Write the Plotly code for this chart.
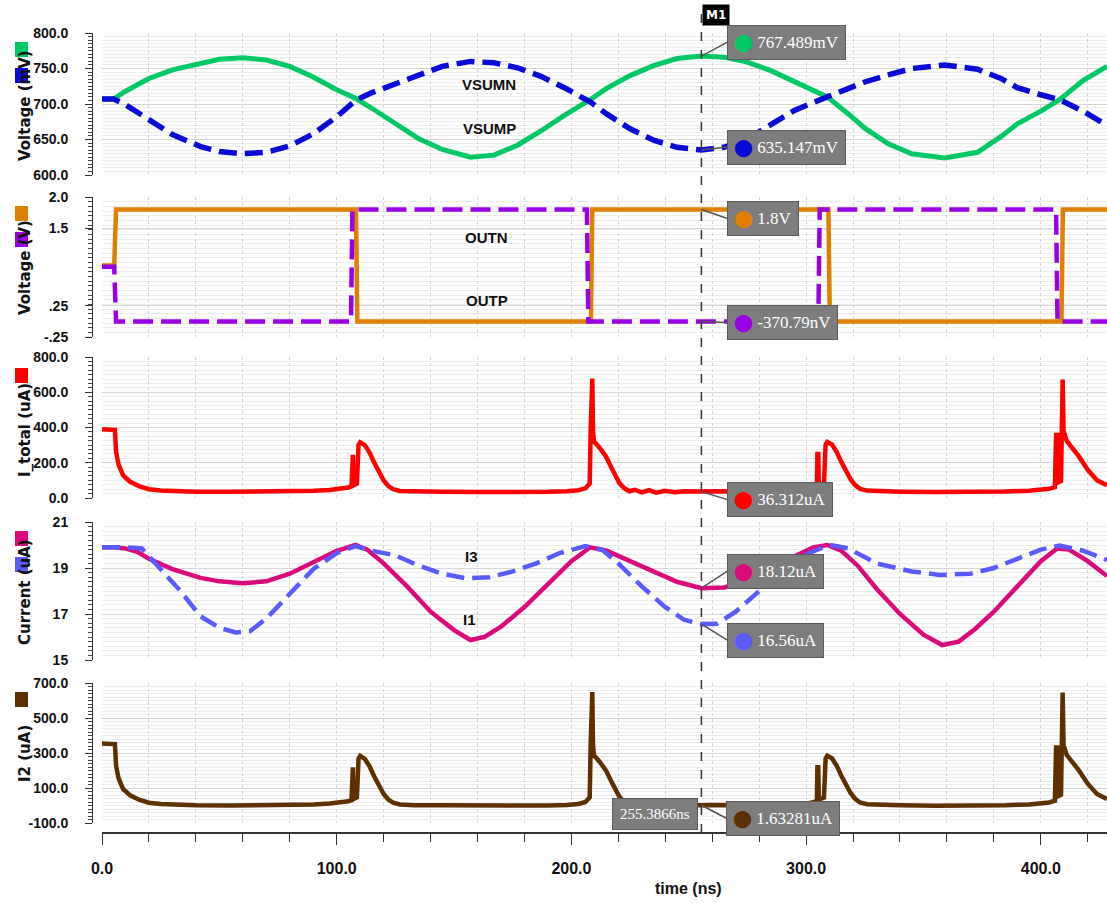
import plotly.graph_objects as go

W, H = 1107, 903

# ---------------- waveform data (time in ns) ----------------
t_vsum = [0, 5, 10, 20, 30, 42, 50, 60, 70, 80, 90, 100, 108, 115, 125,
          135, 145, 157, 167, 177, 187, 197, 208, 215, 225, 235, 245, 255.3866, 265, 275,
          285, 295, 309, 318, 325, 335, 345, 359, 373, 383, 390, 400, 408, 418, 428.2]
vsump = [707, 707, 718, 736, 748, 758, 763, 765, 762, 753, 738, 720, 708, 694, 672,
         651, 636, 625, 628, 642, 662, 684, 706, 722, 740, 754, 764, 767.489, 766, 759,
         747, 731, 710, 686, 666, 644, 630, 624, 632, 654, 672, 690, 706, 733, 753]
vsumn = [707, 707, 699, 677, 657, 640, 633, 630, 632, 641, 658, 682, 705, 716, 729,
         742, 753, 760, 758, 751, 739, 723, 703, 686, 665, 649, 639, 635.147, 639, 651,
         670, 691, 710, 723, 731, 741, 750, 755, 749, 736, 723, 713, 706, 690, 670]

t_outn = [0, 5.2, 6.0, 108.2, 108.8, 208.3, 208.9, 309.5, 310.1, 408.8, 409.4, 428.2]
outn = [0.9, 0.9, 1.8, 1.8, 0.0, 0.0, 1.8, 1.8, 0.0, 0.0, 1.8, 1.8]
t_outp = [0, 5.2, 6.0, 106.1, 106.7, 206.6, 207.2, 305.2, 305.8, 406.5, 407.1, 428.2]
outp = [0.88, 0.88, -3.7079e-7, -3.7079e-7, 1.8, 1.8, -3.7079e-7, -3.7079e-7,
        1.8, 1.8, -3.7079e-7, -3.7079e-7]

t_sw = [0, 5, 5.5, 6, 7, 9, 12, 16, 20, 25,
        30, 40, 55, 70, 80, 90, 97, 102, 105, 106.3,
        106.5, 106.9, 107.1, 108.6, 109.3, 110, 112, 114, 116, 118,
        120, 122, 124, 127, 133, 145, 160, 175, 190, 198,
        203, 206, 207.8, 208.2, 208.5, 208.9, 209.2, 209.6, 212, 214.7,
        217.5, 220.4, 222.5, 224.7, 227, 230, 233, 236, 240, 244,
        248, 252, 255.3866, 260, 265, 270, 278, 285, 292, 298,
        301, 303.5, 304.6, 304.8, 305.2, 305.4, 307.6, 308.3, 309, 311,
        313, 315, 317, 319, 321, 323, 326, 331, 340, 355,
        370, 385, 395, 400, 403.5, 406, 406.5, 407, 407.3, 408.6,
        408.9, 409.3, 409.7, 411, 413, 416, 420, 424, 428.2]
i_total = [390, 390, 386, 262, 192, 128, 92, 66, 50, 42,
           38, 36, 35, 36, 38, 41, 46, 52, 59, 66,
           245, 245, 72, 82, 300, 316, 300, 258, 200, 145,
           100, 68, 50, 40, 37, 36, 34, 33, 35, 38,
           44, 55, 82, 378, 678, 678, 378, 322, 285, 236,
           160, 86, 55, 38, 46, 32, 44, 30, 41, 33,
           38, 34, 36.312, 38, 35, 37, 36, 38, 40, 44,
           48, 55, 62, 250, 250, 70, 80, 302, 318, 304,
           262, 205, 150, 105, 72, 52, 42, 38, 36, 34,
           34, 37, 41, 45, 52, 62, 358, 358, 88, 96,
           672, 672, 380, 325, 290, 240, 160, 100, 72]
i2 = [355, 355, 351, 228, 158, 94, 58, 32, 16, 8,
      4, 1, 0, 1, 3, 6, 11, 17, 24, 31,
      218, 218, 37, 47, 268, 283, 266, 224, 166, 111,
      66, 34, 16, 6, 2, 1, -1, -2, 0, 3,
      9, 20, 47, 346, 648, 648, 346, 288, 250, 201,
      125, 51, 20, 3, 11, -3, 9, -5, 6, -2,
      3, -1, 1.63281, 3, 0, 2, 1, 3, 5, 9,
      13, 20, 27, 218, 218, 35, 45, 268, 284, 270,
      228, 170, 115, 70, 37, 17, 7, 3, 1, -1,
      -1, 2, 6, 10, 17, 27, 332, 332, 53, 61,
      645, 645, 345, 290, 255, 205, 125, 65, 37]
assert len(t_sw) == len(i_total) == len(i2)

t_i1 = [0, 5, 10, 15, 20, 30, 42, 50, 60, 70, 80, 90, 100, 108, 113, 120, 130, 140,
        150, 157, 163, 170, 180, 190, 200, 208, 215, 225, 235, 245, 255.3866, 265, 275,
        285, 295, 303, 309, 315, 322, 330, 340, 350, 358, 365, 372, 380, 390, 400, 407,
        412, 420, 428.2]
i1 = [19.9, 19.9, 19.85, 19.7, 19.4, 18.95, 18.57, 18.42, 18.34, 18.42, 18.75, 19.25,
      19.75, 20.0, 19.8, 19.2, 18.2, 17.1, 16.3, 15.87, 16.0, 16.45, 17.3, 18.3, 19.3,
      19.9, 19.75, 19.3, 18.85, 18.4, 18.12, 18.15, 18.4, 18.9, 19.5, 19.9, 20.0, 19.75,
      19.1, 18.1, 17.0, 16.1, 15.65, 15.8, 16.35, 17.1, 18.2, 19.3, 19.85, 19.8, 19.3,
      18.65]
t_i3 = [0, 10, 17, 23, 33, 42, 50, 57, 63, 70, 80, 90, 100, 108, 115, 125, 135, 145,
        155, 165, 175, 185, 195, 206, 213, 220, 230, 240, 248, 255.3866, 262, 270, 280,
        290, 300, 310, 318, 330, 345, 357, 370, 380, 390, 400, 408, 418, 428.2]
i3 = [19.9, 19.9, 19.85, 19.2, 18.05, 16.9, 16.4, 16.2, 16.25, 16.8, 17.9, 18.95,
      19.65, 19.95, 19.75, 19.55, 19.1, 18.75, 18.55, 18.6, 18.85, 19.2, 19.65, 19.95,
      19.8, 19.2, 18.2, 17.3, 16.75, 16.56, 16.58, 17.1, 18.0, 18.95, 19.6, 20.0, 19.85,
      19.2, 18.85, 18.7, 18.75, 19.0, 19.4, 19.8, 19.98, 19.75, 19.35]

# cursor M1 and the readouts shown at it
cursor_t = 255.3866
readouts = [
    # (panel, value, text, colour, box left x offset, box centre y offset)
    (1, 767.489, "767.489mV", "#00c864", 26, -14),
    (1, 635.147, "635.147mV", "#0a0ad8", 26, -3),
    (2, 1.8, "1.8V", "#e08000", 26, 9),
    (2, -3.7079e-7, "-370.79nV", "#9a00e6", 26, 1),
    (3, 36.312, "36.312uA", "#ff0000", 26, 8),
    (4, 18.12, "18.12uA", "#db0a7a", 26, -17),
    (4, 16.56, "16.56uA", "#5a5aff", 26, 16),
    (5, 1.63281, "1.63281uA", "#5c3000", 25, 13),
]

# ---------------- layout helpers ----------------
def px(x):
    return x / W


def py(y):
    return 1 - y / H


X_RANGE = [0, 428.2]
X_DOMAIN = [px(102), 1.0]
SANS = "Liberation Sans, Arial, sans-serif"
TICK_FONT = dict(family=SANS, size=14, color="#111", weight="bold")
TITLE_FONT = dict(family="DejaVu Sans, Liberation Sans, sans-serif", size=15,
                  color="#111", weight="bold")

panels = [
    dict(top=33, bot=175, rng=[600, 800], tv=[600, 650, 700, 750, 800],
         tt=["600.0", "650.0", "700.0", "750.0", "800.0"], minor=5),
    dict(top=197, bot=337, rng=[-0.25, 2.0], tv=[-0.25, 0.25, 1.5, 2.0],
         tt=["-.25", ".25", "1.5", "2.0"], minor=0.075),
    dict(top=357, bot=498, rng=[0, 800], tv=[0, 200, 400, 600, 800],
         tt=["0.0", "200.0", "400.0", "600.0", "800.0"], minor=25),
    dict(top=522, bot=660, rng=[15, 21], tv=[15, 17, 19, 21],
         tt=["15", "17", "19", "21"], minor=0.2),
    dict(top=683, bot=823, rng=[-100, 700], tv=[-100, 100, 300, 500, 700],
         tt=["-100.0", "100.0", "300.0", "500.0", "700.0"], minor=20),
]

fig = go.Figure()


def add_line(t, v, panel, color, width, dash="solid"):
    fig.add_trace(go.Scatter(
        x=t, y=v, mode="lines", xaxis="x" if panel == 1 else f"x{panel}",
        yaxis="y" if panel == 1 else f"y{panel}",
        line=dict(color=color, width=width, dash=dash),
        showlegend=False, hoverinfo="skip"))


add_line(t_vsum, vsump, 1, "#00c864", 5)
add_line(t_vsum, vsumn, 1, "#0a0ad8", 5.5, "18px,8px")
add_line(t_outn, outn, 2, "#e08000", 4.5)
add_line(t_outp, outp, 2, "#9a00e6", 4.5, "20px,8px")
add_line(t_sw, i_total, 3, "#ff0000", 4.5)
add_line(t_i1, i1, 4, "#db0a7a", 4.5)
add_line(t_i3, i3, 4, "#5a5aff", 4.5, "18px,8px")
add_line(t_sw, i2, 5, "#5c3000", 4.5)

# carrier trace for the shared time axis drawn below the last panel
fig.add_trace(go.Scatter(x=X_RANGE, y=[None, None], xaxis="x6", yaxis="y5",
                         mode="lines", showlegend=False, hoverinfo="skip"))

layout = dict(
    template="none",
    width=W, height=H, margin=dict(l=0, r=0, t=0, b=0, pad=0, autoexpand=False),
    paper_bgcolor="white", plot_bgcolor="white", showlegend=False,
)

for i, p in enumerate(panels, start=1):
    sx = "" if i == 1 else str(i)
    layout[f"xaxis{sx}"] = dict(
        domain=X_DOMAIN, range=X_RANGE, anchor=f"y{sx}", showticklabels=False,
        ticks="", showline=False, zeroline=False, showgrid=True, tick0=0, dtick=20,
        gridcolor="#d4d4d4", griddash="dot", gridwidth=1, fixedrange=True,
        automargin=False)
    layout[f"yaxis{sx}"] = dict(
        domain=[py(p["bot"]), py(p["top"])], range=p["rng"], anchor="free",
        position=px(92), side="left", showline=True, linecolor="#333", linewidth=1,
        ticks="outside", ticklen=7, tickcolor="#333", tickmode="array",
        tickvals=p["tv"], ticktext=p["tt"], tickfont=TICK_FONT, ticklabelstandoff=14,
        showgrid=True, gridcolor="#d6d6d6", gridwidth=1, zeroline=False,
        fixedrange=True, automargin=False,
        minor=dict(tick0=p["rng"][0], dtick=p["minor"], ticks="outside", ticklen=4,
                   tickcolor="#444", showgrid=True, gridcolor="#ededed"))

layout["xaxis6"] = dict(
    overlaying="x5", anchor="free", position=py(833), domain=X_DOMAIN, range=X_RANGE,
    showline=True, linecolor="#333", linewidth=1.5, ticks="outside", ticklen=11,
    tickcolor="#333", tick0=0, dtick=100, tickformat=".1f",
    tickfont=dict(family=SANS, size=16, color="#111", weight="bold"),
    ticklabelstandoff=10, showgrid=False, zeroline=False, fixedrange=True,
    automargin=False,
    minor=dict(dtick=20, ticks="outside", ticklen=8, tickcolor="#333", showgrid=False))

fig.update_layout(**layout)

# panel legend swatches and titles
swatches = [
    (42, "#00c864"), (68, "#0a0ad8"),
    (206, "#e08000"), (232, "#9a00e6"),
    (368, "#ff0000"),
    (531, "#db0a7a"), (557, "#5a5aff"),
    (692, "#5c3000"),
]
for y0, c in swatches:
    fig.add_shape(type="rect", xref="paper", yref="paper", x0=px(15), x1=px(28),
                  y0=py(y0 + 15), y1=py(y0), fillcolor=c, line=dict(width=0), layer="above")

titles = [("Voltage (mV)", 106), ("Voltage (V)", 268), ("I_total (uA)", 430),
          ("Current (uA)", 592), ("I2 (uA)", 754)]
for txt, yc in titles:
    fig.add_annotation(text=txt, xref="paper", yref="paper", x=px(25), y=py(yc),
                       textangle=-90, showarrow=False, font=TITLE_FONT,
                       xanchor="center", yanchor="middle")

# curve names
LBL_FONT = dict(family=SANS, size=15, color="#111", weight="bold")
for txt, t, v, ax_ in [("VSUMN", 165, 727, 1), ("VSUMP", 165, 666, 1),
                       ("OUTN", 164, 1.35, 2), ("OUTP", 164, 0.34, 2),
                       ("I3", 157.4, 19.48, 4), ("I1", 156.6, 16.74, 4)]:
    sx = "" if ax_ == 1 else str(ax_)
    fig.add_annotation(text=txt, x=t, y=v, xref=f"x{sx}", yref=f"y{sx}",
                       showarrow=False, font=LBL_FONT)

# x-axis title
fig.add_annotation(text="time (ns)", xref="paper", yref="paper", x=px(688), y=py(888),
                   xanchor="center", yanchor="middle", showarrow=False,
                   font=dict(family=SANS, size=16, color="#111", weight="bold"))

# cursor line and tag
fig.add_shape(type="line", xref="x", yref="paper", x0=cursor_t, x1=cursor_t,
              y0=py(833), y1=py(6), line=dict(color="#333", width=1.5, dash="dash"),
              layer="above")
fig.add_annotation(text="<b>M1</b>", xref="x", yref="paper", x=cursor_t, xshift=1,
                   y=py(4), xanchor="left", yanchor="top", showarrow=False,
                   bgcolor="black", font=dict(color="white", size=12, family="DejaVu Sans"),
                   borderpad=3)

BOX_FONT = dict(family="Liberation Serif, DejaVu Serif, serif", size=17, color="white")
for panel, val, txt, col, dx, dy in readouts:
    sx = "" if panel == 1 else str(panel)
    fig.add_annotation(
        x=cursor_t, y=val, xref=f"x{sx}", yref=f"y{sx}",
        text=f'<span style="color:{col};font-family:DejaVu Sans">⬤</span> {txt}',
        showarrow=True, arrowhead=0, arrowwidth=1.5, arrowcolor="#555",
        ax=dx, ay=dy, xanchor="left", yanchor="middle",
        bgcolor="#7d7d7d", bordercolor="#5a5a5a", borderwidth=1, borderpad=6,
        font=BOX_FONT)

fig.add_annotation(text="255.3866ns", xref="x", yref="paper", x=cursor_t, xshift=-3,
                   y=py(814), xanchor="right", yanchor="middle", showarrow=False,
                   bgcolor="#7d7d7d", bordercolor="#5a5a5a", borderwidth=1, borderpad=7,
                   font=dict(family="Liberation Serif, DejaVu Serif, serif", size=15,
                             color="white"))

fig.write_html("out.html")
